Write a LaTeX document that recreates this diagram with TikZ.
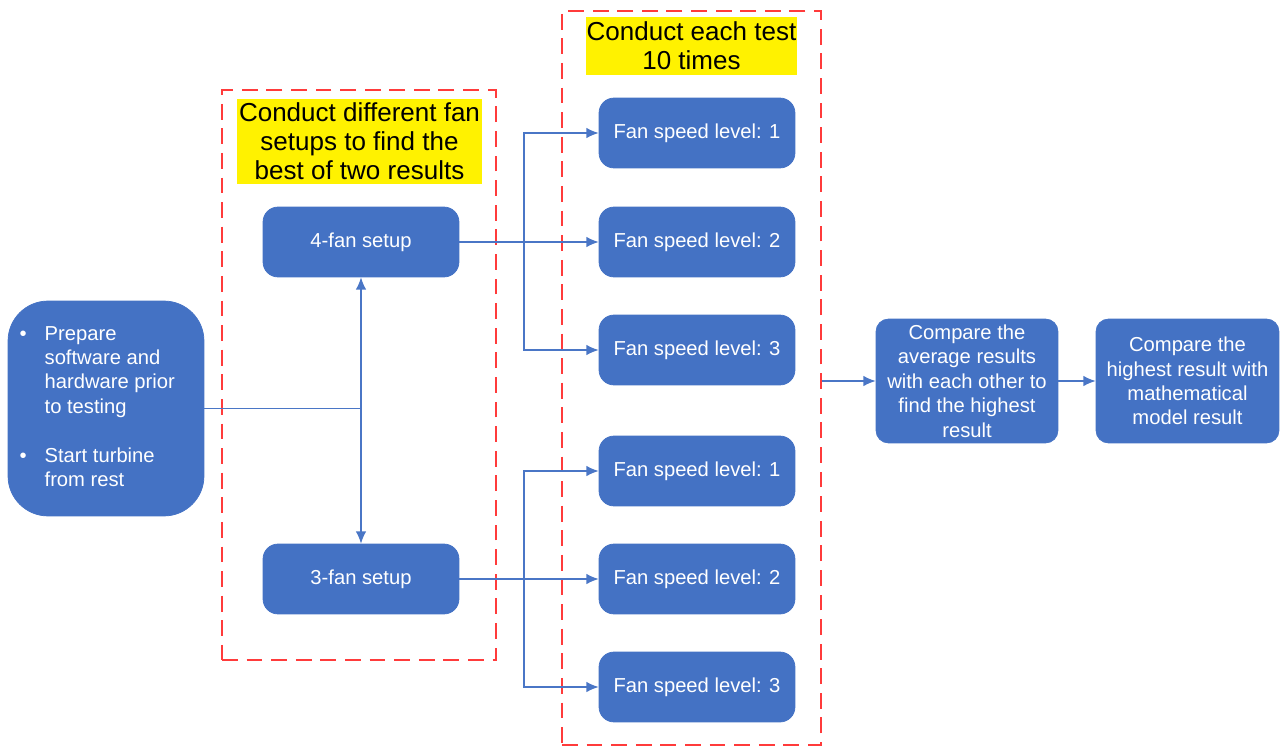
\documentclass[tikz,border=0pt]{standalone}
\usepackage{fontspec}
\setmainfont{Liberation Sans}
\usepackage{xcolor}
\usetikzlibrary{calc,arrows.meta}
\definecolor{boxblue}{HTML}{4472C4}
\definecolor{linkblue}{HTML}{4A76C6}
\definecolor{framered}{HTML}{FF3B3B}

\begin{document}
\begin{tikzpicture}[x=0.02cm,y=-0.02cm,
        box/.style={rounded corners=0.3cm,fill=boxblue,draw=boxblue,text=white,minimum width=3.92cm,minimum height=1.4cm,font=\fontsize{11.5}{13.9}\selectfont,align=center,inner sep=1pt},
        frame/.style={draw=framered,line width=0.8pt,dash pattern=on 9pt off 5pt},
        note/.style={fill=yellow,font=\fontsize{14.8}{16.4}\selectfont,align=center,inner sep=0pt},
        link/.style={draw=linkblue,line width=0.75pt,>={Latex[length=7pt,width=6pt]}}]
        \useasboundingbox (0,0) rectangle (1282,747);

        \node[box,minimum height=4.3cm,rounded corners=0.8cm] (prep) at (106,408.5){\begin{tabular}{@{}l@{\hspace{0.36cm}}l@{\hspace{0.35cm}}}
            \textbullet & Prepare\\ & software and\\ & hardware prior\\ & to testing\\ & \\
            \textbullet & Start turbine\\ & from rest
        \end{tabular}};

        \node[frame,minimum width=5.48cm,minimum height=11.4cm] (setupframe) at (359,375){};
        \node[note,minimum width=4.9cm,minimum height=1.7cm] (setupnote) at (359.5,141.5){Conduct different fan\\setups to find the\\best of two results};
        \node[box] (fan4) at (361,242){4-fan setup};
        \node[box] (fan3) at (361,579){3-fan setup};

        \node[frame,minimum width=5.18cm,minimum height=14.68cm] (testframe) at (691.5,378){};
        \node[note,minimum width=4.22cm,minimum height=1.16cm] (testnote) at (691.5,46){Conduct each test\\10 times};
        \foreach \y/\n/\lvl in {133/a1/1,242/a2/2,350/a3/3,471/b1/1,579/b2/2,687/b3/3}
            \node[box] (\n) at (697,\y){Fan speed level: \lvl};

        \node[box,minimum width=3.64cm,minimum height=2.48cm,rounded corners=0.25cm,inner sep=0pt] (avg) at (967,381){Compare the\\average results\\with each other to\\find the highest\\result};
        \node[box,minimum width=3.66cm,minimum height=2.48cm,rounded corners=0.25cm,inner sep=0pt] (final) at (1187.5,381){Compare the\\highest result with\\mathematical\\model result};

        % setup split
        \coordinate (hub) at (prep.east -| fan4.south);
        \draw[link] (prep.east)--(hub);
        \draw[link,<->] (fan4.south)--(fan3.north);

        % speed levels
        \coordinate (topsplit) at (524,242);
        \coordinate (botsplit) at (524,579);
        \draw[link,->] (fan4.east)--(a2.west);
        \draw[link,->] (topsplit)|-(a1.west);
        \draw[link,->] (topsplit)|-(a3.west);
        \draw[link,->] (fan3.east)--(b2.west);
        \draw[link,->] (botsplit)|-(b1.west);
        \draw[link,->] (botsplit)|-(b3.west);

        \draw[link,->] (avg.west -| testframe.east)--(avg.west);
        \draw[link,->] (avg.east)--(final.west);
    \end{tikzpicture}
\end{document}
